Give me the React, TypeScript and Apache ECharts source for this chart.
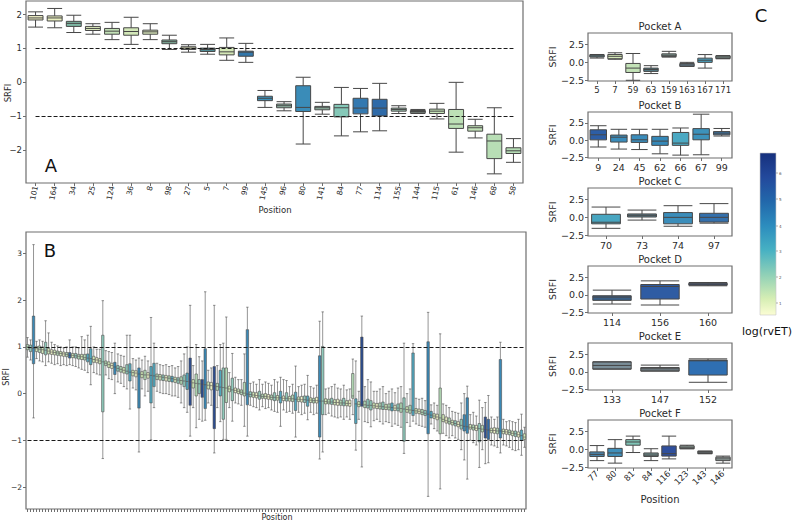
import React, { useEffect, useRef } from "react";
import * as echarts from "echarts";

const FONT = "DejaVu Sans";
const TXT = "#2b2b2b";
const FRAME = "#6e6e6e";
const EDGE = "#474747";

// ---------- Panel A ----------
const aCategories = ["101","164","34","25","124","36","8","98","27","5","7","99","145","96","80","141","84","77","114","155","144","115","61","146","68","58"];
// [low whisker, Q1, median, Q3, high whisker]
const aBoxes = [
  [1.63, 1.84, 1.9, 1.97, 2.08],
  [1.61, 1.81, 1.9, 1.96, 2.18],
  [1.47, 1.65, 1.74, 1.8, 1.98],
  [1.42, 1.53, 1.59, 1.65, 1.73],
  [1.26, 1.42, 1.51, 1.59, 1.77],
  [1.12, 1.39, 1.5, 1.61, 1.92],
  [1.26, 1.42, 1.49, 1.54, 1.73],
  [0.97, 1.14, 1.2, 1.25, 1.39],
  [0.89, 0.97, 1.01, 1.05, 1.11],
  [0.83, 0.91, 0.97, 1.01, 1.12],
  [0.65, 0.81, 0.9, 1.03, 1.31],
  [0.59, 0.77, 0.89, 0.92, 1.15],
  [-0.74, -0.54, -0.47, -0.41, -0.24],
  [-0.84, -0.75, -0.69, -0.64, -0.57],
  [-1.82, -0.86, -0.74, -0.1, 0.15],
  [-0.94, -0.81, -0.75, -0.71, -0.59],
  [-1.58, -1.02, -0.75, -0.65, -0.15],
  [-1.46, -0.93, -0.76, -0.47, -0.18],
  [-1.43, -0.99, -0.76, -0.5, -0.03],
  [-0.92, -0.85, -0.8, -0.76, -0.69],
  [-0.92, -0.9, -0.86, -0.83, -0.8],
  [-1.08, -0.92, -0.85, -0.79, -0.62],
  [-2.06, -1.36, -1.23, -0.8, 0.0],
  [-1.64, -1.44, -1.34, -1.28, -1.09],
  [-2.7, -2.25, -1.73, -1.53, -0.75],
  [-2.36, -2.1, -2.02, -1.93, -1.66],
];
const aColors = ["#f1f2c6","#eaf0c0","#7db7a3","#dbeabc","#c3e2b7","#d2e7b8","#dcebbd","#7faf9b","#edf1c6","#4e8b94","#d4e8b7","#3277ab","#3c91b9","#93bba8","#3a8cb8","#98c0ab","#85c8b8","#3479b0","#2e6aa8","#9ec5b0","#a5c8b3","#c5e3b8","#bde0b6","#c2e2b7","#b8deb5","#b6ddb5"];
const aTicks = [-2, -1, 0, 1, 2];

// ---------- Panel B ----------
const bPalette = ["#eef3c6","#d3eab8","#b4dbb6","#8fcabb","#52a9c0","#3a89b6","#2f6aa8","#2c4d90"];
const bBoxes = [
  [0.78,0.94,1.0,1.05,1.2],[0.72,0.9,0.98,1.04,1.15],[-0.52,0.64,0.97,1.66,3.19],[0.75,0.9,0.96,1.01,1.12],[0.7,0.88,0.95,1.02,1.15],
  [0.68,0.86,0.94,1.0,1.12],[0.6,0.83,0.93,1.1,1.56],[0.68,0.85,0.91,0.97,1.3],[0.65,0.84,0.89,0.94,1.1],[0.62,0.83,0.88,0.93,1.05],
  [0.64,0.82,0.87,0.91,1.02],[0.6,0.81,0.86,0.9,1.0],[0.62,0.8,0.85,0.89,0.98],[0.6,0.79,0.84,0.88,1.0],[0.62,0.76,0.82,0.88,1.15],
  [0.6,0.77,0.82,0.86,1.0],[0.58,0.76,0.81,0.86,1.0],[0.55,0.74,0.8,0.84,0.98],[0.52,0.73,0.79,0.84,1.22],[0.5,0.72,0.77,0.84,1.15],
  [0.45,0.68,0.76,0.85,1.25],[0.19,0.62,0.75,0.96,1.44],[0.45,0.67,0.73,0.8,1.0],[0.42,0.66,0.72,0.77,0.95],[0.4,0.64,0.7,0.75,0.95],
  [-1.39,-0.39,0.68,1.25,1.99],[0.4,0.6,0.65,0.7,0.92],[0.32,0.56,0.62,0.68,0.9],[0.3,0.54,0.6,0.65,0.88],[0.0,0.41,0.57,0.67,1.08],
  [0.25,0.48,0.54,0.6,0.85],[0.22,0.46,0.52,0.58,0.82],[0.15,0.44,0.5,0.56,0.8],[0.1,0.42,0.48,0.62,1.25],[-0.33,0.27,0.46,0.64,1.25],
  [0.12,0.38,0.45,0.5,0.75],[0.08,0.36,0.44,0.49,0.72],[-1.25,-0.31,0.42,0.55,0.76],[0.1,0.34,0.41,0.47,0.72],[-0.05,0.3,0.4,0.5,0.8],
  [0.05,0.33,0.4,0.45,0.7],[-0.99,-0.2,0.39,0.58,1.63],[-0.3,0.15,0.38,0.65,1.08],[0.05,0.3,0.37,0.42,0.65],[0.02,0.29,0.36,0.41,0.62],
  [0.0,0.28,0.35,0.4,0.6],[0.0,0.27,0.34,0.39,0.62],[-0.02,0.26,0.33,0.38,0.58],[-0.05,0.25,0.32,0.37,0.6],[-0.05,0.24,0.3,0.35,0.55],
  [-0.08,0.22,0.29,0.34,0.58],[-0.2,0.2,0.28,0.36,0.7],[-0.3,0.15,0.27,0.4,0.85],[-0.4,0.09,0.26,0.44,1.0],[-0.91,-0.25,0.25,0.76,1.89],
  [-0.3,0.12,0.23,0.3,0.6],[-0.73,-0.05,0.22,0.42,1.05],[-0.55,0.0,0.21,0.3,0.79],[-0.59,-0.08,0.2,0.3,0.7],[-0.57,-0.32,0.19,0.96,2.18],
  [-0.2,0.1,0.18,0.25,0.5],[-0.25,0.08,0.17,0.24,0.55],[-1.27,-0.75,0.16,0.58,1.89],[-0.3,0.07,0.15,0.22,0.6],[-0.6,-0.05,0.14,0.5,1.05],
  [-0.98,-0.55,0.13,0.55,1.08],[-0.98,-0.19,0.12,0.55,1.64],[-0.3,0.04,0.1,0.16,0.45],[-0.59,-0.15,0.08,0.33,0.86],[-0.2,0.02,0.07,0.12,0.35],
  [-0.22,0.0,0.05,0.1,0.3],[-0.25,-0.02,0.03,0.08,0.3],[-0.7,-0.05,0.01,0.24,0.85],[-0.91,-0.24,-0.01,1.37,1.85],[-0.25,-0.07,-0.02,0.04,0.22],
  [-0.28,-0.08,-0.03,0.03,0.25],[-0.3,-0.09,-0.04,0.02,0.2],[-0.35,-0.12,-0.05,0.05,0.3],[-0.28,-0.1,-0.06,-0.01,0.2],[-0.32,-0.11,-0.06,0.0,0.25],
  [-0.3,-0.12,-0.07,-0.02,0.22],[-0.35,-0.13,-0.08,-0.03,0.18],[-0.38,-0.15,-0.08,0.02,0.3],[-0.4,-0.14,-0.09,-0.04,0.25],[-0.7,-0.2,-0.09,0.05,0.35],
  [-0.35,-0.15,-0.1,-0.05,0.3],[-0.4,-0.16,-0.1,0.02,0.28],[-0.38,-0.16,-0.11,-0.06,0.15],[-0.42,-0.17,-0.11,-0.03,0.2],[-0.93,-0.36,-0.12,0.03,0.59],
  [-0.4,-0.17,-0.12,-0.07,0.15],[-0.45,-0.18,-0.13,-0.06,0.18],[-0.42,-0.19,-0.13,-0.05,0.2],[-0.56,-0.27,-0.14,-0.05,0.39],[-0.4,-0.19,-0.14,-0.09,0.15],
  [-0.45,-0.2,-0.15,-0.1,0.12],[-0.42,-0.2,-0.15,-0.08,0.18],[-1.4,-0.93,-0.16,0.81,1.55],[-1.25,-0.45,-0.16,1.01,1.75],[-0.45,-0.22,-0.17,-0.11,0.1],
  [-0.42,-0.22,-0.18,-0.12,0.12],[-0.48,-0.23,-0.18,-0.1,0.15],[-0.5,-0.24,-0.19,-0.13,0.2],[-0.52,-0.25,-0.19,-0.12,0.12],[-0.5,-0.25,-0.2,-0.14,0.1],
  [-0.55,-0.26,-0.2,-0.1,0.18],[-0.5,-0.26,-0.21,-0.15,0.08],[-0.55,-0.27,-0.21,-0.14,0.1],[-0.45,-0.1,-0.05,0.43,0.74],[-1.21,-0.64,-0.22,-0.11,0.7],
  [-0.55,-0.28,-0.23,-0.17,0.05],[-1.57,-0.27,-0.23,1.21,1.66],[-0.6,-0.3,-0.24,-0.16,0.15],[-0.62,-0.31,-0.25,-0.12,0.3],[-0.71,-0.35,-0.25,-0.15,0.25],
  [-0.58,-0.31,-0.26,-0.2,0.05],[-0.55,-0.32,-0.27,-0.21,0.05],[-0.6,-0.33,-0.27,-0.2,0.1],[-0.65,-0.34,-0.28,-0.18,0.15],[-0.6,-0.34,-0.29,-0.23,0.0],
  [-0.62,-0.35,-0.29,-0.22,0.05],[-0.7,-0.37,-0.3,-0.2,0.1],[-0.65,-0.36,-0.31,-0.25,0.02],[-0.68,-0.37,-0.31,-0.22,0.12],[-0.72,-0.4,-0.32,-0.2,0.15],
  [-1.28,-1.02,-0.33,-0.09,1.08],[-0.62,-0.4,-0.34,-0.28,0.0],[-0.7,-0.42,-0.35,-0.25,0.1],[-0.59,-0.47,-0.36,0.87,1.07],[-0.65,-0.42,-0.37,-0.32,-0.1],
  [-0.68,-0.43,-0.38,-0.33,-0.12],[-0.7,-0.45,-0.4,-0.34,-0.1],[-0.72,-0.47,-0.42,-0.36,-0.15],[-2.2,-0.86,-0.44,1.11,1.74],[-0.65,-0.52,-0.46,-0.38,-0.24],
  [-0.75,-0.53,-0.48,-0.43,-0.2],[-0.8,-0.56,-0.5,-0.44,-0.25],[-2.04,-0.86,-0.52,0.12,1.28],[-0.85,-0.6,-0.55,-0.45,-0.22],[-0.9,-0.63,-0.58,-0.5,-0.25],
  [-0.95,-0.65,-0.6,-0.52,-0.3],[-0.9,-0.67,-0.62,-0.57,-0.38],[-0.95,-0.69,-0.64,-0.58,-0.4],[-0.98,-0.71,-0.66,-0.6,-0.42],[-1.2,-0.76,-0.68,-0.55,-0.2],
  [-1.42,-0.8,-0.7,-0.45,0.0],[-1.83,-0.85,-0.71,-0.09,0.16],[-1.0,-0.76,-0.72,-0.66,-0.45],[-1.05,-0.78,-0.73,-0.67,-0.4],[-1.1,-0.79,-0.74,-0.68,-0.48],
  [-1.58,-1.03,-0.75,-0.64,-0.14],[-1.2,-0.82,-0.76,-0.68,-0.3],[-1.5,-0.95,-0.77,-0.5,-0.19],[-1.48,-0.98,-0.78,-0.55,-0.04],[-1.1,-0.84,-0.79,-0.74,-0.5],
  [-1.12,-0.85,-0.79,-0.73,-0.55],[-1.15,-0.86,-0.8,-0.74,-0.5],[-1.27,-0.95,-0.8,0.73,1.1],[-1.1,-0.86,-0.81,-0.76,-0.55],[-1.12,-0.87,-0.82,-0.77,-0.6],
  [-1.15,-0.88,-0.83,-0.78,-0.58],[-1.2,-0.9,-0.85,-0.8,-0.6],[-1.22,-0.92,-0.86,-0.8,-0.62],[-1.2,-0.93,-0.88,-0.82,-0.55],[-1.32,-1.0,-0.9,-0.78,-0.44],
  [-1.15,-0.98,-0.93,-0.86,-0.72],
];
const bColorIdx = [
  2,3,5,1,2, 1,3,1,0,1, 2,1,0,2,6, 1,3,2,1,2, 4,4,1,0,1, 3,2,1,0,5,
  3,2,1,3,4, 1,0,5,1,2, 0,4,4,2,1, 3,0,2,4,1, 3,2,3,4,7, 1,2,3,7,5,
  1,0,7,2,4, 3,2,1,3,0, 1,2,2,5,3, 1,0,3,2,1, 0,2,3,1,4, 0,3,1,2,4,
  1,0,3,4,1, 2,0,5,3,1, 2,3,1,0,2, 3,1,0,2,4, 1,7,2,3,3, 1,0,2,3,1,
  2,4,0,3,2, 3,1,2,4,1, 0,2,3,5,4, 1,0,2,1,0, 2,1,3,0,3, 5,5,1,2,0,
  3,2,7,6,1, 0,2,5,1,0, 2,1,3,0,4, 1,
];
const bCategories = bBoxes.map((_, i) => `P${i + 1}`);
const bTicks = [-2, -1, 0, 1, 2, 3];

// ---------- Panel C: pockets ----------
const pocketTitles = ["Pocket A", "Pocket B", "Pocket C", "Pocket D", "Pocket E", "Pocket F"];
const pocketACats = ["5","7","59","63","159","163","167","171"];
const pocketABoxes = [[0.6,0.75,0.9,1.05,1.1],[0.44,0.5,0.85,1.1,1.34],[-2.5,-1.41,-0.8,-0.15,1.24],[-1.56,-1.26,-1.0,-0.8,-0.46],[0.74,0.8,0.99,1.19,1.54],[-0.55,-0.55,-0.35,-0.15,0.0],[-0.8,0.0,0.3,0.59,1.09],[0.5,0.55,0.74,0.9,0.95]];
const pocketAColors = ["#5f8f98","#d5e9b8","#c3e2b7","#55808c","#8aa8a0","#6e8fa4","#4aa0bf","#8eaaa2"];
const pocketBCats = ["9","24","45","62","66","67","99"];
const pocketBBoxes = [[-1.0,0.04,0.78,1.51,2.1],[-1.3,-0.28,0.43,0.74,1.58],[-1.37,-0.33,0.05,0.78,1.58],[-1.99,-0.76,-0.14,0.55,1.58],[-2.18,-0.76,-0.43,1.12,1.77],[-2.13,0.05,0.86,1.68,3.78],[0.6,0.78,1.02,1.25,1.7]];
const pocketBColors = ["#2d5ea6","#3a8cbb","#3a8cbb","#3588b8","#4ba9c3","#3d92bb","#3777ae"];
const pocketCCats = ["70","73","74","97"];
const pocketCBoxes = [[-1.53,-0.9,-0.68,0.43,1.44],[-0.38,0.05,0.29,0.48,1.02],[-1.24,-0.9,0.0,0.67,1.63],[-0.81,-0.66,0.0,0.57,1.92]];
const pocketCColors = ["#48a6c1","#5e8190","#3b8dba","#3470ac"];
const pocketDCats = ["114","156","160"];
const pocketDBoxes = [[-1.32,-0.8,-0.33,-0.14,0.66],[-1.46,-0.61,1.18,1.46,1.98],[1.28,1.37,1.51,1.65,1.75]];
const pocketDColors = ["#3b5f86","#2f5ca3","#2d4f93"];
const pocketECats = ["133","147","152"];
const pocketEBoxes = [[0.38,0.38,0.9,1.41,1.41],[0.1,0.1,0.42,0.6,0.95],[-1.5,-0.47,1.56,1.66,1.84]];
const pocketEColors = ["#7a8e98","#7a8a92","#2f6fb2"];
const pocketFCats = ["77","80","81","84","116","123","143","146"];
const pocketFBoxes = [[-1.57,-0.99,-0.7,-0.35,0.53],[-1.92,-0.99,-0.5,0.14,1.36],[-0.44,0.58,1.03,1.36,1.85],[-1.57,-0.99,-0.8,-0.5,0.09],[-1.33,-0.94,-0.6,0.48,1.85],[0.09,0.09,0.29,0.48,0.58],[-0.6,-0.6,-0.4,-0.25,-0.25],[-1.92,-1.57,-1.33,-1.09,-0.94]];
const pocketFColors = ["#4a86ae","#3f8fba","#7fc4b6","#6f8e8e","#2f4f9c","#a9bfb6","#8a9a9c","#a3b3b0"];
const pocketTicks = [-2.5, 0, 2.5];

// colorbar
const colorbarTicks = ["1", "2", "3", "4", "5", "6"];

const minusFmt = (v: number, digits = 0) => {
  const s = Math.abs(v).toFixed(digits);
  return v < 0 ? "\u2212" + s : s;
};

export default function App() {
  const ref = useRef<HTMLDivElement>(null);
  useEffect(() => {
    if (!ref.current) return;
    const chart = echarts.init(ref.current, null, { renderer: "svg" });

    const grids: any[] = [];
    const xAxes: any[] = [];
    const yAxes: any[] = [];
    const series: any[] = [];
    const graphics: any[] = [];

    const gridBase = { show: true, borderColor: FRAME, borderWidth: 1.2, backgroundColor: "transparent" };

    const valueAxis = (gi: number, min: number, max: number, ticks: number[], fs: number, digits: number) => ({
      type: "value", gridIndex: gi, min, max,
      splitLine: { show: false },
      axisLine: { show: false, onZero: false },
      axisTick: { show: true, length: 3, lineStyle: { color: FRAME }, customValues: ticks },
      axisLabel: { fontSize: fs, color: TXT, fontFamily: FONT, margin: 4, customValues: ticks, formatter: (v: number) => minusFmt(v, digits) },
    });
    const catAxis = (gi: number, data: string[], fs: number, rotate: number, showLabel = true, margin = 4) => ({
      type: "category", gridIndex: gi, data, boundaryGap: true, position: "bottom",
      axisLine: { show: false, onZero: false },
      axisTick: { show: true, alignWithLabel: true, interval: 0, length: 3, lineStyle: { color: FRAME } },
      axisLabel: { show: showLabel, interval: 0, rotate, fontSize: fs, color: TXT, fontFamily: FONT, margin },
    });
    const boxSeries = (gi: number, rows: number[][], colors: string[], edge: string, bw: number, width: any) => ({
      type: "boxplot", xAxisIndex: gi, yAxisIndex: gi, boxWidth: width,
      itemStyle: { borderColor: edge, borderWidth: bw },
      data: rows.map((r, i) => ({ value: r, itemStyle: { color: colors[i], borderColor: edge, borderWidth: bw } })),
    });
    const dashed = (cats: string[]) => ({
      silent: true, symbol: ["none", "none"], label: { show: false },
      lineStyle: { type: [4, 2], color: "#1a1a1a", width: 1 },
      data: [
        [{ coord: [cats[0], 1] }, { coord: [cats[cats.length - 1], 1] }],
        [{ coord: [cats[0], -1] }, { coord: [cats[cats.length - 1], -1] }],
      ],
    });

    // Panel A
    grids.push({ ...gridBase, left: 26, top: 1, width: 497, height: 182 });
    xAxes.push(catAxis(0, aCategories, 7.5, 78, true, 3));
    yAxes.push(valueAxis(0, -2.97, 2.4, aTicks, 8.5, 0));
    series.push({ ...boxSeries(0, aBoxes, aColors, EDGE, 1, ["78%", "78%"]), markLine: dashed(aCategories) });

    // Panel B
    grids.push({ ...gridBase, left: 26, top: 232, width: 500, height: 277 });
    xAxes.push(catAxis(1, bCategories, 8, 0, false));
    yAxes.push(valueAxis(1, -2.47, 3.46, bTicks, 7.5, 0));
    series.push({ ...boxSeries(1, bBoxes, bColorIdx.map((c) => bPalette[c]), "#4d4d4d", 0.6, ["80%", "80%"]), markLine: dashed(bCategories) });

    // Pockets
    const pockets = [
      { cats: pocketACats, rows: pocketABoxes, colors: pocketAColors, top: 33, h: 48, fs: 8.5 },
      { cats: pocketBCats, rows: pocketBBoxes, colors: pocketBColors, top: 112, h: 46, fs: 9.5 },
      { cats: pocketCCats, rows: pocketCBoxes, colors: pocketCColors, top: 188, h: 48, fs: 9.5 },
      { cats: pocketDCats, rows: pocketDBoxes, colors: pocketDColors, top: 266, h: 47, fs: 9.5 },
      { cats: pocketECats, rows: pocketEBoxes, colors: pocketEColors, top: 343, h: 47, fs: 9.5 },
      { cats: pocketFCats, rows: pocketFBoxes, colors: pocketFColors, top: 420, h: 48, fs: 8.5 },
    ];
    pockets.forEach((p, k) => {
      const gi = 2 + k;
      grids.push({ ...gridBase, left: 588, top: p.top, width: 144, height: p.h });
      xAxes.push(catAxis(gi, p.cats, p.fs, k === 5 ? 45 : 0, true, 4));
      yAxes.push(valueAxis(gi, -2.6, 4.1, pocketTicks, 9.5, 1));
      series.push(boxSeries(gi, p.rows, p.colors, EDGE, 1, ["80%", "80%"]));
      graphics.push({
        type: "text", x: 660, y: p.top - 7,
        style: { text: pocketTitles[k], fontSize: 10, fontFamily: FONT, fill: TXT, textAlign: "center", textVerticalAlign: "middle" },
      });
      graphics.push({
        type: "text", x: 552, y: p.top + p.h / 2, rotation: Math.PI / 2,
        style: { text: "SRFI", fontSize: 9.5, fontFamily: FONT, fill: TXT, textAlign: "center", textVerticalAlign: "middle" },
      });
    });

    // axis names and panel letters
    graphics.push(
      { type: "text", x: 8, y: 93, rotation: Math.PI / 2, style: { text: "SRFI", fontSize: 8.5, fontFamily: FONT, fill: TXT, textAlign: "center", textVerticalAlign: "middle" } },
      { type: "text", x: 6, y: 377, rotation: Math.PI / 2, style: { text: "SRFI", fontSize: 8, fontFamily: FONT, fill: TXT, textAlign: "center", textVerticalAlign: "middle" } },
      { type: "text", x: 275, y: 210, style: { text: "Position", fontSize: 8.5, fontFamily: FONT, fill: TXT, textAlign: "center", textVerticalAlign: "middle" } },
      { type: "text", x: 277, y: 517, style: { text: "Position", fontSize: 8, fontFamily: FONT, fill: TXT, textAlign: "center", textVerticalAlign: "middle" } },
      { type: "text", x: 660, y: 499, style: { text: "Position", fontSize: 10, fontFamily: FONT, fill: TXT, textAlign: "center", textVerticalAlign: "middle" } },
      { type: "text", x: 51, y: 165, style: { text: "A", fontSize: 18, fontFamily: FONT, fill: "#111", textAlign: "center", textVerticalAlign: "middle" } },
      { type: "text", x: 50, y: 250, style: { text: "B", fontSize: 18, fontFamily: FONT, fill: "#111", textAlign: "center", textVerticalAlign: "middle" } },
      { type: "text", x: 761, y: 15, style: { text: "C", fontSize: 18, fontFamily: FONT, fill: "#111", textAlign: "center", textVerticalAlign: "middle" } },
      {
        type: "rect", shape: { x: 760, y: 153, width: 16, height: 162 },
        style: {
          fill: {
            type: "linear", x: 0, y: 0, x2: 0, y2: 1,
            colorStops: [
              { offset: 0, color: "#16307d" },
              { offset: 0.15, color: "#23499c" },
              { offset: 0.3, color: "#2268ab" },
              { offset: 0.45, color: "#2c8dbe" },
              { offset: 0.6, color: "#47b1c3" },
              { offset: 0.75, color: "#8fd0b7" },
              { offset: 0.9, color: "#d6eeb4" },
              { offset: 1, color: "#fbfdd4" },
            ],
          },
          stroke: "#c8c8c8", lineWidth: 0.6,
        },
      },
      { type: "text", x: 742, y: 331, style: { text: "log(rvET)", fontSize: 11, fontFamily: FONT, fill: "#111", textAlign: "left", textVerticalAlign: "middle" } },
    );
    const cbY = [303, 277, 251, 226, 199, 173];
    colorbarTicks.forEach((t, i) => {
      graphics.push({ type: "line", shape: { x1: 776, y1: cbY[i], x2: 778, y2: cbY[i] }, style: { stroke: "#666", lineWidth: 0.5 } });
      graphics.push({ type: "text", x: 779, y: cbY[i], style: { text: t, fontSize: 4, fontFamily: FONT, fill: "#555", textAlign: "left", textVerticalAlign: "middle" } });
    });

    chart.setOption({
      animation: false,
      backgroundColor: "#ffffff",
      grid: grids,
      xAxis: xAxes,
      yAxis: yAxes,
      series,
      graphic: graphics,
    });
    return () => chart.dispose();
  }, []);
  return <div ref={ref} style={{ position: "absolute", left: 0, top: 0, width: 792, height: 523 }} />;
}
